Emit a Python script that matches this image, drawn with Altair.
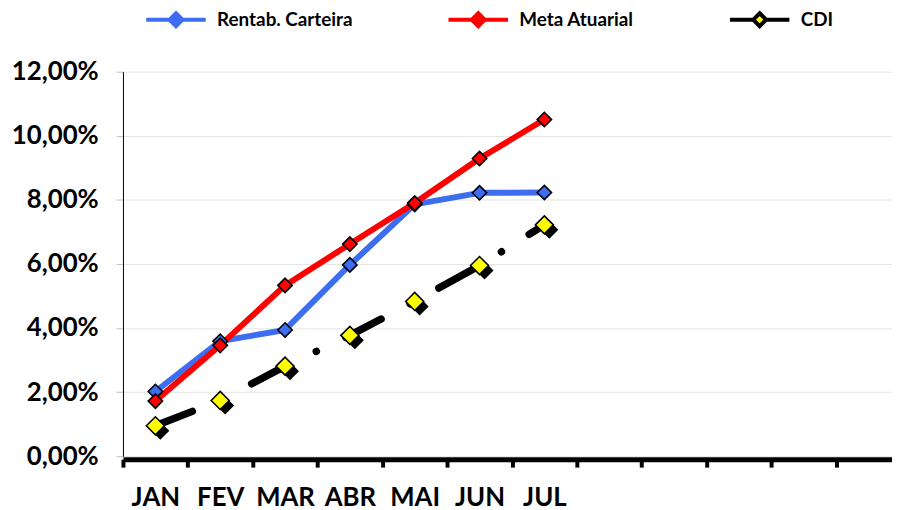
import altair as alt
import pandas as pd

# ---- data ----
meses_todos = ["JAN", "FEV", "MAR", "ABR", "MAI", "JUN", "JUL", "AGO", "SET", "OUT", "NOV", "DEZ"]
meses = ["JAN", "FEV", "MAR", "ABR", "MAI", "JUN", "JUL"]
rentab = [2.02, 3.59, 3.94, 5.97, 7.86, 8.22, 8.23]
meta = [1.72, 3.46, 5.33, 6.62, 7.90, 9.29, 10.51]
cdi = [0.95, 1.74, 2.81, 3.77, 4.83, 5.95, 7.22]

series = ["Rentab. Carteira", "Meta Atuarial", "CDI"]
line_colors = ["#3D6EF2", "#FF0000", "#000000"]
fill_colors = ["#3D6EF2", "#FF0000", "#FFFF00"]
y_ticks = [0, 2, 4, 6, 8, 10, 12]

rows = []
for nome, vals in zip(series, [rentab, meta, cdi]):
    for m, v in zip(meses, vals):
        rows.append({"mes": m, "serie": nome, "valor": v})
df = pd.DataFrame(rows)

FONT = "Lato"

mes_list = "[" + ",".join("'" + m + "'" for m in meses) + "]"

x_enc = alt.X(
    "mes:N",
    sort=meses_todos,
    scale=alt.Scale(domain=meses_todos, type="band", paddingInner=0, paddingOuter=0, range=[0, 785]),
    axis=alt.Axis(
        title=None,
        labelExpr=f"indexof({mes_list}, datum.value) >= 0 ? datum.value : ''",
        labelAngle=0,
        labelFont=FONT,
        labelFontSize=26,
        labelFontWeight="bold",
        labelColor="black",
        labelPadding=18,
        domainColor="black",
        domainWidth=5,
        tickColor="black",
        tickWidth=4,
        tickSize=8,
        tickBand="extent",
        offset=3,
        grid=False,
    ),
)

y_enc = alt.Y(
    "valor:Q",
    scale=alt.Scale(domain=[0, 12], nice=False),
    axis=alt.Axis(
        title=None,
        values=y_ticks,
        labelExpr="replace(format(datum.value, '.2f'), '.', ',') + '%'",
        labelFont=FONT,
        labelFontSize=26,
        labelFontWeight="bold",
        labelColor="black",
        labelPadding=18,
        domainColor="black",
        domainWidth=1,
        tickColor="#BFBFBF",
        tickSize=7,
        grid=True,
        gridColor="#E4E4E4",
        gridWidth=1,
    ),
)

# one legend: line pieces on both sides of a diamond (stroke from line scale, fill from marker scale)
legend_common = dict(
    orient="none",
    legendX=19,
    legendY=-62,
    direction="horizontal",
    title=None,
    labelFont=FONT,
    labelFontSize=19,
    labelFontWeight="bold",
    labelColor="black",
    labelLimit=300,
    labelOffset=57,
    symbolSize=100,
    symbolType="M-1,0H3.7M6.3,0H11M5,-1.3L6.3,0L5,1.3L3.7,0Z",
    symbolStrokeWidth=4,
    columnPadding=88,
    padding=0,
)

stroke_enc = alt.Stroke(
    "serie:N",
    scale=alt.Scale(domain=series, range=line_colors),
    legend=alt.Legend(**legend_common),
)

fill_enc = alt.Fill(
    "serie:N",
    scale=alt.Scale(domain=series, range=fill_colors),
    legend=alt.Legend(**legend_common),
)

base = alt.Chart(df)

linha_rentab = base.transform_filter(alt.datum.serie == series[0]).mark_line(
    strokeWidth=6, strokeJoin="round"
).encode(x=x_enc, y=y_enc, stroke=stroke_enc)

linha_meta = base.transform_filter(alt.datum.serie == series[1]).mark_line(
    strokeWidth=6, strokeJoin="round"
).encode(x=x_enc, y=y_enc, stroke=stroke_enc)

linha_cdi = base.transform_filter(alt.datum.serie == series[2]).mark_line(
    strokeWidth=7.5, strokeCap="round", strokeDash=[40, 33, 0.1, 33]
).encode(x=x_enc, y=y_enc, stroke=stroke_enc)

sombra_cdi = base.transform_filter(alt.datum.serie == series[2]).mark_point(
    shape="diamond", filled=True, size=330, xOffset=5, yOffset=5, opacity=1
).encode(x=x_enc, y=y_enc, fill=alt.value("black"))

pontos_rm = base.transform_filter(alt.datum.serie != series[2]).mark_point(
    shape="diamond", filled=True, stroke="black", strokeWidth=1.6, opacity=1, size=210
).encode(x=x_enc, y=y_enc, fill=fill_enc)

pontos_cdi = base.transform_filter(alt.datum.serie == series[2]).mark_point(
    shape="diamond", filled=True, stroke="black", strokeWidth=1.6, opacity=1, size=330
).encode(x=x_enc, y=y_enc, fill=fill_enc)

chart = (
    alt.layer(linha_rentab, linha_meta, linha_cdi, sombra_cdi, pontos_rm, pontos_cdi)
    .properties(
        width=776,
        height=388,
        autosize=alt.AutoSizeParams(type="none"),
        padding={"left": 116, "top": 62, "right": 0, "bottom": 52},
        background="white",
    )
    .configure_view(stroke=None)
)

chart.save("out.html", embed_options={"renderer": "svg", "actions": False})
